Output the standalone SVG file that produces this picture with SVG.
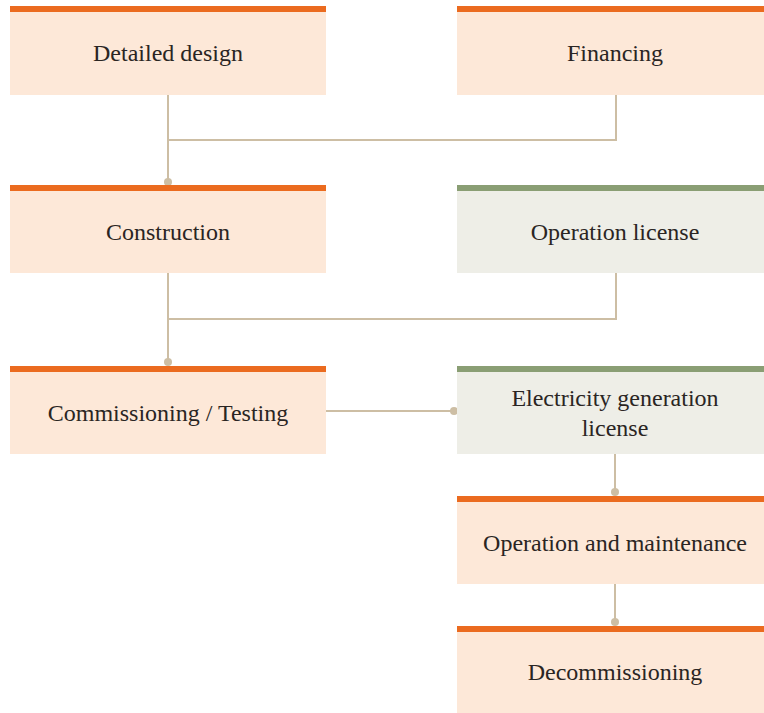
<svg xmlns="http://www.w3.org/2000/svg" width="764" height="713" viewBox="0 0 764 713">
<style>
.o{fill:#FDE8D8}.ob{fill:#EB6B1F}.g{fill:#EEEEE7}.gb{fill:#8A9E74}
.t{font-family:"Liberation Serif","Times New Roman",serif;font-size:24px;fill:#2a2523;text-anchor:middle}
.c{fill:none;stroke:#CDBEA4;stroke-width:2}
.d{fill:#CDBEA4}
</style>
<rect width="764" height="713" fill="#fff"/>
<g id="connectors">
<path class="c" d="M168 95V182M168 140H616V95"/>
<path class="c" d="M168 273V362M168 319H616V273"/>
<path class="c" d="M326 411H454"/>
<path class="c" d="M615 454V492"/>
<path class="c" d="M615 584V622"/>
<circle class="d" cx="168" cy="182" r="4"/>
<circle class="d" cx="168" cy="362" r="4"/>
<circle class="d" cx="454" cy="411" r="4"/>
<circle class="d" cx="615" cy="492" r="4"/>
<circle class="d" cx="615" cy="622" r="4"/>
</g>
<g id="detailed-design"><rect class="o" x="10" y="6" width="316" height="89"/><rect class="ob" x="10" y="6" width="316" height="6"/><text class="t" x="168" y="61">Detailed design</text></g>
<g id="financing"><rect class="o" x="457" y="6" width="316" height="89"/><rect class="ob" x="457" y="6" width="316" height="6"/><text class="t" x="615" y="61">Financing</text></g>
<g id="construction"><rect class="o" x="10" y="185" width="316" height="88"/><rect class="ob" x="10" y="185" width="316" height="6"/><text class="t" x="168" y="240">Construction</text></g>
<g id="operation-license"><rect class="g" x="457" y="185" width="316" height="88"/><rect class="gb" x="457" y="185" width="316" height="6"/><text class="t" x="615" y="240">Operation license</text></g>
<g id="commissioning"><rect class="o" x="10" y="366" width="316" height="88"/><rect class="ob" x="10" y="366" width="316" height="6"/><text class="t" x="168" y="421">Commissioning / Testing</text></g>
<g id="electricity-license"><rect class="g" x="457" y="366" width="316" height="88"/><rect class="gb" x="457" y="366" width="316" height="6"/><text class="t" x="615" y="406">Electricity generation</text><text class="t" x="615" y="436">license</text></g>
<g id="operation-maintenance"><rect class="o" x="457" y="496" width="316" height="88"/><rect class="ob" x="457" y="496" width="316" height="6"/><text class="t" x="615" y="551">Operation and maintenance</text></g>
<g id="decommissioning"><rect class="o" x="457" y="626" width="316" height="87"/><rect class="ob" x="457" y="626" width="316" height="6"/><text class="t" x="615" y="680">Decommissioning</text></g>
</svg>
